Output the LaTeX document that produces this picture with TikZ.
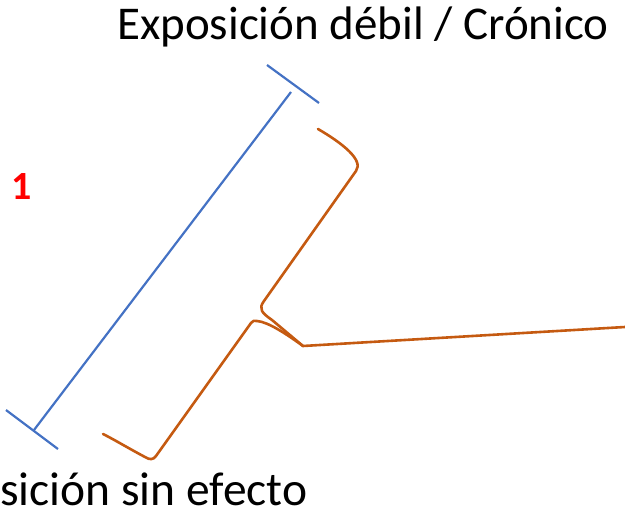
\documentclass[tikz,border=0pt]{standalone}
\usepackage{fontspec}
\setmainfont{Carlito}
\definecolor{lineblue}{HTML}{4472C4}
\definecolor{braceorange}{HTML}{C55A11}
\begin{document}
\begin{tikzpicture}[x=1pt,y=-1pt,
  bluestroke/.style={draw=lineblue,line width=2.2pt},
  orangestroke/.style={draw=braceorange,line width=2.6pt,line join=round,line cap=round},
  label/.style={font=\fontsize{47}{50}\selectfont,inner sep=0pt,anchor=base west}]
\useasboundingbox (0,0) rectangle (625,519);
% blue bar with end ticks
\coordinate (btop) at (291,92);
\coordinate (bbot) at (34,430);
\coordinate (t1) at (267,65);
\coordinate (t2) at (319,103);
\coordinate (b1) at (6,410);
\coordinate (b2) at (58,449);
\draw[bluestroke] (btop) -- (bbot);
\draw[bluestroke] (t1) -- (t2);
\draw[bluestroke] (b1) -- (b2);
% orange brace
\coordinate (otop) at (318,129);
\coordinate (obot) at (103,434);
\coordinate (tip) at (303,346);
\coordinate (far) at (625,327);
\draw[orangestroke] (otop) .. controls (342,143) and (364,160) .. (356,171)
  -- (264,301) .. controls (258,309) and (262,313) .. (272,320)
  -- (tip) -- (far);
\draw[orangestroke] (tip) .. controls (285,333) and (268,322) .. (257,321)
  .. controls (254,320) and (253,321) .. (251,323)
  -- (156,456) .. controls (153,460) and (150,460) .. (145,457)
  .. controls (128,448) and (115,440) .. (obot);
% texts
\node[label] (toplabel) at (117,40) {Exposición débil / Crónico};
\node[label,font=\fontsize{47.5}{50}\selectfont] (botlabel) at (0,505) {sición sin efecto};
\node[font=\fontsize{40}{42}\selectfont\bfseries,text=red,inner sep=0pt] (num) at (21.5,187) {1};
\end{tikzpicture}
\end{document}
